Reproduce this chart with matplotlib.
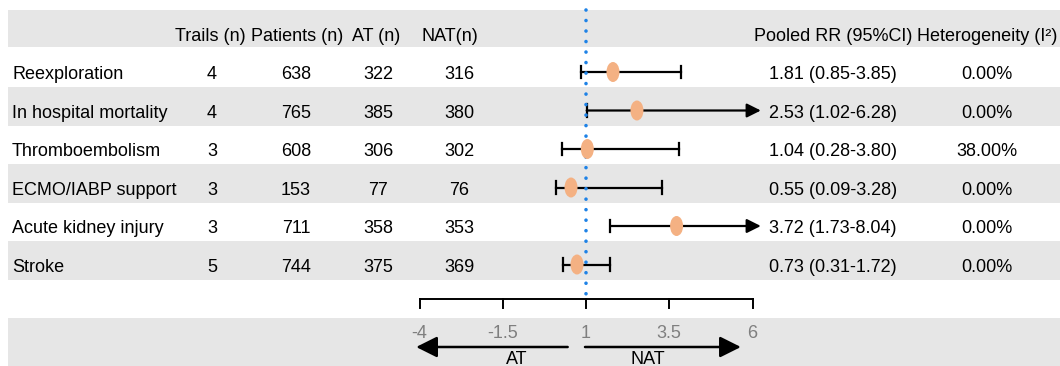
"""
Forest plot: AT vs NAT pooled risk ratios for secondary outcomes.
"""
from __future__ import annotations

import matplotlib
matplotlib.use("Agg")
import matplotlib.pyplot as plt
from matplotlib import font_manager
from matplotlib.patches import Ellipse


OUTCOMES = [
    "Reexploration",
    "In hospital mortality",
    "Thromboembolism",
    "ECMO/IABP support",
    "Acute kidney injury",
    "Stroke",
]
TRIALS = [4, 4, 3, 3, 3, 5]
PATIENTS = [638, 765, 608, 153, 711, 744]
AT_N = [322, 385, 306, 77, 358, 375]
NAT_N = [316, 380, 302, 76, 353, 369]
RR = [1.81, 2.53, 1.04, 0.55, 3.72, 0.73]
RR_LO = [0.85, 1.02, 0.28, 0.09, 1.73, 0.31]
RR_HI = [3.85, 6.28, 3.80, 3.28, 8.04, 1.72]
I2 = [0.00, 0.00, 38.00, 0.00, 0.00, 0.00]

HEADERS = ["Trails (n)", "Patients (n)", "AT (n)", "NAT(n)"]
AXIS_TICKS = [-4, -1.5, 1, 3.5, 6]
CLIP = 6.25  # CIs beyond this are drawn as arrows

W, H = 1060, 366
PX_PER_UNIT = 33.3
PX_PER_ROW = 38.5
ONE_PX = 586   # pixel x of RR = 1
ROW0_PX = 72   # pixel y of first outcome row

GREY = "#e6e6e6"
PEACH = "#f4b183"
BLUE = "#1e82e6"


def pick_font() -> tuple[str, float]:
    names = {f.name for f in font_manager.fontManager.ttflist}
    if "Liberation Sans Narrow" in names:
        return "Liberation Sans Narrow", 14.5
    return "Liberation Sans", 13.0


def fx(px: float) -> float:
    return px / W


def ry(py: float) -> float:
    return (py - ROW0_PX) / PX_PER_ROW


def main() -> None:
    family, fs = pick_font()
    plt.rcParams["font.family"] = [family, "DejaVu Sans"]

    fig = plt.figure(figsize=(W / 100, H / 100), dpi=100)
    ax = fig.add_axes([0, 0, 1, 1])
    ax.set_xlim(1 - ONE_PX / PX_PER_UNIT, 1 + (W - ONE_PX) / PX_PER_UNIT)
    ax.set_ylim(ry(H), ry(0))
    ax.axis("off")
    tr = ax.get_yaxis_transform()

    # background bands
    ax.axhspan(ry(10), ry(47), xmin=fx(8), xmax=1, color=GREY, lw=0, zorder=0)
    for i in (1, 3, 5):
        ax.axhspan(i - 0.62, i + 0.40, xmin=fx(8), xmax=1, color=GREY, lw=0, zorder=0)
    ax.axhspan(ry(318), ry(H), xmin=fx(8), xmax=1, color=GREY, lw=0, zorder=0)

    base = 0.19  # baseline offset below row center
    hdr_x = [210, 297, 376, 450]
    val_x = [212, 296, 378, 459]
    for h, x in zip(HEADERS, hdr_x):
        ax.text(fx(x), -1 + base, h, transform=tr, ha="center", va="baseline", fontsize=fs)
    ax.text(fx(833), -1 + base, "Pooled RR (95%CI)", transform=tr, ha="center", va="baseline", fontsize=fs)
    ax.text(fx(917), -1 + base, "Heterogeneity (I²)", transform=tr, ha="left", va="baseline", fontsize=fs)

    for i, name in enumerate(OUTCOMES):
        y = i + base
        ax.text(fx(12), y, name, transform=tr, ha="left", va="baseline", fontsize=fs)
        for x, v in zip(val_x, (TRIALS[i], PATIENTS[i], AT_N[i], NAT_N[i])):
            ax.text(fx(x), y, str(v), transform=tr, ha="center", va="baseline", fontsize=fs)
        ax.text(fx(833), y, f"{RR[i]:.2f} ({RR_LO[i]:.2f}-{RR_HI[i]:.2f})",
                transform=tr, ha="center", va="baseline", fontsize=fs)
        ax.text(fx(987), y, f"{I2[i]:.2f}%", transform=tr, ha="center", va="baseline", fontsize=fs)

    # confidence intervals
    cap = 0.16
    for i in range(len(OUTCOMES)):
        lo, hi = RR_LO[i], RR_HI[i]
        ax.plot([lo, lo], [i - cap, i + cap], color="black", lw=1.6, zorder=2)
        if hi > CLIP:
            ax.annotate("", xy=(CLIP, i), xytext=(lo, i),
                        arrowprops=dict(arrowstyle="-|>,head_length=0.6,head_width=0.3",
                                        mutation_scale=14, lw=1.6, color="black",
                                        shrinkA=0, shrinkB=0), zorder=2)
        else:
            ax.plot([lo, hi], [i, i], color="black", lw=1.6, zorder=2)
            ax.plot([hi, hi], [i - cap, i + cap], color="black", lw=1.6, zorder=2)

    # reference line at RR = 1
    ax.plot([1, 1], [ry(10), ry(298)], color=BLUE, lw=2.6,
            ls=(0, (0.01, 2.9)), dash_capstyle="round", zorder=3)

    # point estimates
    for i, v in enumerate(RR):
        ax.add_patch(Ellipse((v, i), 13 / PX_PER_UNIT, 20 / PX_PER_ROW,
                             facecolor=PEACH, edgecolor="none", zorder=4))

    # bottom scale
    y_axis = ry(299)
    ax.plot([AXIS_TICKS[0], AXIS_TICKS[-1]], [y_axis, y_axis], color="black", lw=1.4, zorder=2)
    for t in AXIS_TICKS:
        ax.plot([t, t], [y_axis, ry(308)], color="black", lw=1.4, zorder=2)
        ax.text(t, ry(333), f"{t:g}", ha="center", va="center", fontsize=fs, color="#7f7f7f")

    y_arr = ry(347)
    arrow_kw = dict(arrowstyle="-|>,head_length=0.8,head_width=0.4", mutation_scale=16,
                    lw=1.8, color="black", shrinkA=0, shrinkB=0)
    ax.annotate("", xy=(-4.1, y_arr), xytext=(0.45, y_arr), arrowprops=arrow_kw)
    ax.annotate("", xy=(5.65, y_arr), xytext=(0.97, y_arr), arrowprops=arrow_kw)
    ax.text(-1.07, ry(364), "AT", ha="center", va="baseline", fontsize=fs)
    ax.text(2.86, ry(364), "NAT", ha="center", va="baseline", fontsize=fs)

    fig.savefig("out.png", dpi=100)
    plt.close(fig)


if __name__ == "__main__":
    main()
